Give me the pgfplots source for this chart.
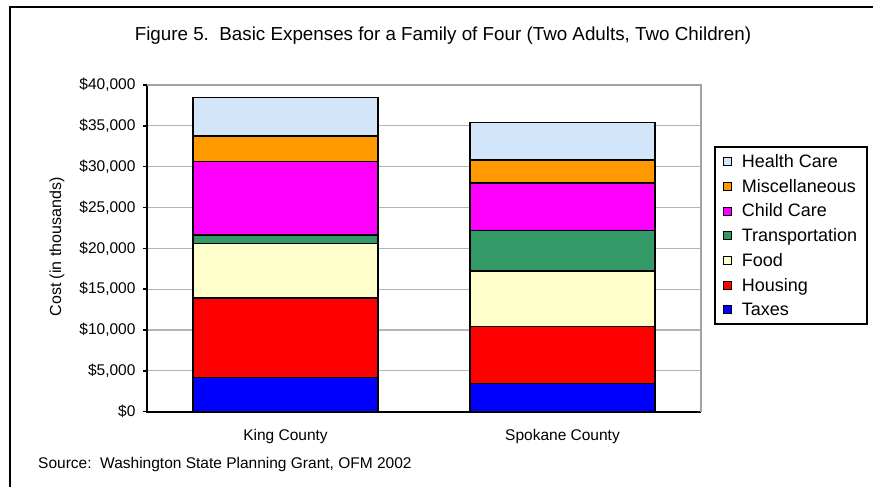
\documentclass[border=0pt]{standalone}
\usepackage{fontspec}
\setmainfont{Liberation Sans}
\usepackage{pgfplots}
\pgfplotsset{compat=1.18}
\definecolor{cTaxes}{HTML}{0000FF}
\definecolor{cHousing}{HTML}{FF0000}
\definecolor{cFood}{HTML}{FFFFCC}
\definecolor{cTrans}{HTML}{339966}
\definecolor{cChild}{HTML}{FF00FF}
\definecolor{cMisc}{HTML}{FF9900}
\definecolor{cHealth}{HTML}{D3E5F9}
\definecolor{gridgray}{HTML}{B4B4B4}
\begin{document}
\begin{tikzpicture}
\useasboundingbox (0pt,0pt) rectangle (873pt,-487pt);
\draw[line width=2pt] (10pt,-492pt) -- (10pt,-7pt) -- (878pt,-7pt);
\node[anchor=base, font=\fontsize{18.8}{22}\selectfont] at (443pt,-41pt) {Figure 5.\ \ Basic Expenses for a Family of Four (Two Adults, Two Children)};
\node[anchor=base west, inner sep=0pt, font=\fontsize{15.5}{18}\selectfont] at (38pt,-468pt) {Source:\ \ Washington State Planning Grant, OFM 2002};
\node[anchor=base, rotate=90, inner sep=0pt, font=\fontsize{16}{19}\selectfont] at (61pt,-247pt) {Cost (in thousands)};
\begin{axis}[
  at={(147pt,-411.7pt)}, anchor=south west,
  scale only axis, width=554pt, height=326.7pt,
  ybar stacked, bar width=185pt,
  xmin=-0.5, xmax=1.5, ymin=0, ymax=40000,
  scaled y ticks=false,
  xtick={0,1}, xticklabels={King County, Spokane County},
  minor xtick={-0.5,0.5,1.5},
  xtick style={draw=none},
  minor x tick style={black, line width=1.5pt},
  ytick={0,5000,10000,15000,20000,25000,30000,35000,40000},
  yticklabels={{\$0},{\$5,000},{\$10,000},{\$15,000},{\$20,000},{\$25,000},{\$30,000},{\$35,000},{\$40,000}},
  ytick style={black, line width=1.5pt},
  tick align=outside, major tick length=4pt, minor tick length=5pt,
  xtick pos=bottom, ytick pos=left,
  ymajorgrids, grid style={gridgray, line width=1.2pt},
  axis line style={draw=none},
  tick label style={font=\fontsize{15.5}{18}\selectfont},
  xticklabel style={yshift=-10pt},
  yticklabel style={xshift=-4pt},
  /pgf/number format/assume math mode=true,
  clip=false,
  reverse legend,
  legend cell align=left,
  legend style={at={(1.0235,0.813)}, anchor=north west, draw=black, line width=1.6pt,
    font=\fontsize{18}{21}\selectfont, row sep=6.2pt, inner xsep=8pt, inner ysep=5.5pt,
    /tikz/every odd column/.append style={column sep=8pt}},
  legend image code/.code={\draw[#1, draw=black, line width=1pt] (0pt,-4pt) rectangle (8pt,4pt);},
  every axis plot/.append style={draw=black, line width=1.3pt},
]
\addplot[fill=cTaxes] coordinates {(0,4210) (1,3475)};
\addlegendentry{Taxes}
\addplot[fill=cHousing] coordinates {(0,9720) (1,6950)};
\addlegendentry{Housing}
\addplot[fill=cFood] coordinates {(0,6660) (1,6790)};
\addlegendentry{Food}
\addplot[fill=cTrans] coordinates {(0,1060) (1,4945)};
\addlegendentry{Transportation}
\addplot[fill=cChild] coordinates {(0,8990) (1,5845)};
\addlegendentry{Child Care}
\addplot[fill=cMisc] coordinates {(0,3105) (1,2820)};
\addlegendentry{Miscellaneous}
\addplot[fill=cHealth] coordinates {(0,4700) (1,4620)};
\addlegendentry{Health Care}
\draw[gridgray!90!black, line width=1.5pt] (rel axis cs:0,1) -- (rel axis cs:1,1) -- (rel axis cs:1,0);
\draw[black, line width=2.4pt] (rel axis cs:0,1) -- (rel axis cs:0,0) -- (rel axis cs:1,0);
\end{axis}
\end{tikzpicture}
\end{document}
